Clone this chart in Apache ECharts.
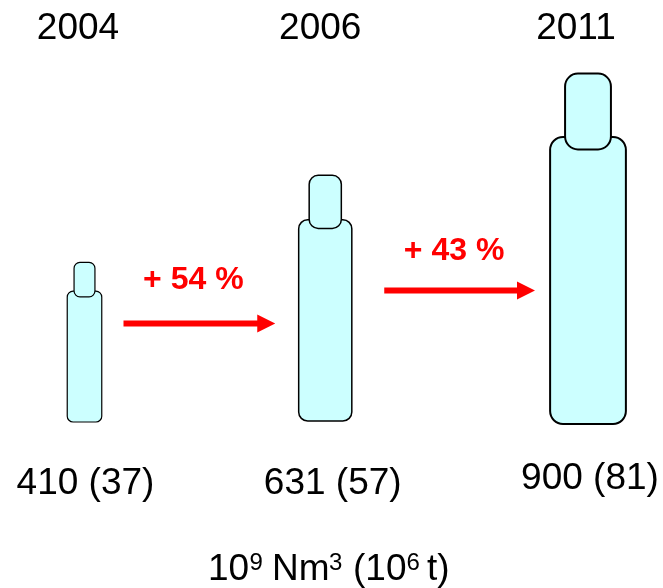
<!DOCTYPE html>
<html><head><meta charset="utf-8">
<style>html,body{margin:0;padding:0;background:#fff}#c{width:663px;height:588px}</style>
<script src="https://cdn.jsdelivr.net/npm/echarts@6/dist/echarts.min.js"></script>
</head><body><div id="c"></div>
<script>
const years = ['2004', '2006', '2011'];
const volumes = [410, 631, 900];
const tonnes = [37, 57, 81];
const growthLabels = ['+ 54 %', '+ 43 %'];
const arrowLevels = [309, 412];
const unitParts = ['10', '9', 'Nm', '3', '(10', '6', 't)'];

const FONT = '"Liberation Sans", Arial, sans-serif';
const PX_PER_UNIT = 0.319;
const GRID_BOTTOM_Y = 422;
const WIDTH_PER_UNIT = 0.0842;
// hand placement of the reference's slightly irregular layout
const nudgeX = [0, -11, 0];
const nudgeBase = [0, -1, 2];
const strokes = [1.2, 1.5, 2];
const yearDx = [-6.5, -5, -12];
const labelDx = [1, 7.5, 2];
const labelY = [484, 484, 479];
const arrowInset = [[39, 50], [59, 53]];
const growthDy = [-43, -39.5];
const unitX = [208, 249.5, 272, 329, 353, 406.5, 427];

const chart = echarts.init(document.getElementById('c'), null, {renderer: 'canvas'});

function textEl(x, y, text, size, color, weight) {
  return {type: 'text', style: {x, y, text, fill: color || '#000', fontFamily: FONT,
    fontSize: size, fontWeight: weight || 'normal', align: 'center', verticalAlign: 'middle'}};
}

chart.setOption({
  animation: false,
  grid: {left: 84.5, width: 503.5, top: 0, height: GRID_BOTTOM_Y},
  xAxis: {type: 'category', data: years, boundaryGap: false, show: false},
  yAxis: {type: 'value', min: 0, max: GRID_BOTTOM_Y / PX_PER_UNIT, show: false},
  graphic: unitParts.map((t, i) => ({
    type: 'text', x: unitX[i], y: i % 2 ? 563 : 570,
    style: {text: t, fill: '#000', fontFamily: FONT, fontSize: i % 2 ? 24 : 37,
      align: 'left', verticalAlign: 'middle'}
  })),
  series: [{
    type: 'custom',
    clip: false,
    data: years.map((y, i) => [i, volumes[i]]),
    renderItem(params, api) {
      const i = params.dataIndex;
      const cx0 = api.coord([api.value(0), 0])[0];
      const cx = cx0 + nudgeX[i];
      const base = api.coord([api.value(0), 0])[1] + nudgeBase[i];
      const h = api.size([0, api.value(1)])[1];
      const w = api.value(1) * WIDTH_PER_UNIT;
      const nw = w * 0.605;
      const nh = w * 1.0;
      const top = base - h;
      const overlap = w * 0.165;
      const style = {fill: '#CCFFFF', stroke: '#000', lineWidth: strokes[i]};
      return {type: 'group', children: [
        {type: 'rect', shape: {x: cx - w / 2, y: top, width: w, height: h, r: w * 0.17}, style},
        {type: 'rect', shape: {x: cx - nw / 2, y: top + overlap - nh, width: nw, height: nh, r: nw * 0.28}, style},
        textEl(cx + yearDx[i], 29, years[i], 37),
        textEl(cx + labelDx[i], labelY[i], volumes[i] + ' (' + tonnes[i] + ')', 37)
      ]};
    }
  }, {
    type: 'custom',
    clip: false,
    data: growthLabels.map((g, i) => [i, arrowLevels[i]]),
    renderItem(params, api) {
      const i = params.dataIndex;
      const from = api.coord([i, api.value(1)]);
      const to = api.coord([i + 1, api.value(1)]);
      const x0 = from[0] + nudgeX[i] + arrowInset[i][0];
      const x1 = to[0] + nudgeX[i + 1] - arrowInset[i][1];
      const y = from[1];
      const hx = x1 - 18;
      return {type: 'group', children: [
        {type: 'polygon', shape: {points: [[x0, y - 3], [hx, y - 3], [hx, y - 9], [x1, y], [hx, y + 9], [hx, y + 3], [x0, y + 3]]},
          style: {fill: '#FF0000'}},
        textEl((x0 + x1) / 2 + (i ? -5.5 : -6), y + growthDy[i], growthLabels[i], 32, '#FF0000', 'bold')
      ]};
    }
  }]
});
</script></body></html>
